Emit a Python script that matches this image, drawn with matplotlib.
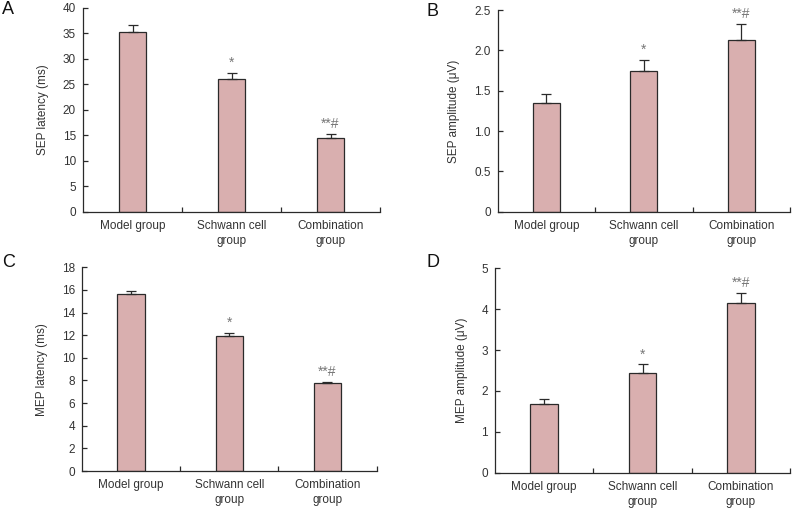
import matplotlib
matplotlib.use("Agg")
import matplotlib.pyplot as plt
from matplotlib.ticker import FuncFormatter

plt.rcParams['font.family'] = ['Liberation Sans', 'DejaVu Sans']

categories = ["Model group", "Schwann cell\ngroup", "Combination\ngroup"]

sep_latency = [35.3, 26.1, 14.5]
sep_latency_err = [1.3, 1.1, 0.7]
sep_amplitude = [1.35, 1.75, 2.13]
sep_amplitude_err = [0.11, 0.13, 0.20]
mep_latency = [15.6, 11.93, 7.77]
mep_latency_err = [0.30, 0.25, 0.12]
mep_amplitude = [1.69, 2.43, 4.16]
mep_amplitude_err = [0.12, 0.22, 0.23]
sig_labels = ["", "*", "**#"]

panels = [
    ("A", sep_latency, sep_latency_err, "SEP latency (ms)", (0, 40), [0, 5, 10, 15, 20, 25, 30, 35, 40], False,
     [0.1048, 0.5827, 0.375, 0.4016], (0.002, 0.998)),
    ("B", sep_amplitude, sep_amplitude_err, "SEP amplitude (\u03bcV)", (0, 2.5), [0, 0.5, 1.0, 1.5, 2.0, 2.5], True,
     [0.6284, 0.5833, 0.369, 0.397], (0.538, 0.994)),
    ("C", mep_latency, mep_latency_err, "MEP latency (ms)", (0, 18), [0, 2, 4, 6, 8, 10, 12, 14, 16, 18], False,
     [0.1035, 0.0728, 0.372, 0.401], (0.003, 0.5)),
    ("D", mep_amplitude, mep_amplitude_err, "MEP amplitude (\u03bcV)", (0, 5), [0, 1, 2, 3, 4, 5], False,
     [0.625, 0.0695, 0.3725, 0.4023], (0.538, 0.5)),
]

fig = plt.figure(figsize=(7.92, 5.08), dpi=100)
bar_color = "#d9afaf"
edge_color = "#2a2a2a"
text_color = "#333333"

for letter, vals, errs, ylabel, ylim, yticks, onedec, pos, lpos in panels:
    ax = fig.add_axes(pos)
    x = list(range(len(categories)))
    ax.bar(x, vals, width=0.28, color=bar_color, edgecolor=edge_color, linewidth=0.9, zorder=2)
    ax.errorbar(x, vals, yerr=[[0] * len(errs), errs], fmt="none", ecolor=edge_color,
                elinewidth=0.9, capsize=3.5, capthick=0.9, zorder=3)
    span = ylim[1] - ylim[0]
    for xi, v, e, s in zip(x, vals, errs, sig_labels):
        if s:
            ax.text(xi, v + e + span * 0.015, s, ha="center", va="bottom",
                    fontsize=10, color="#777777")
    ax.set_xlim(-0.5, 2.5)
    ax.set_ylim(*ylim)
    ax.set_yticks(yticks)
    if onedec:
        ax.yaxis.set_major_formatter(FuncFormatter(lambda v, p: "0" if v == 0 else f"{v:.1f}"))
    ax.set_xticks(x)
    ax.set_xticklabels(categories, fontsize=8.5, color=text_color, linespacing=1.3)
    ax.set_xticks([0.5, 1.5, 2.5], minor=True)
    ax.tick_params(axis="x", which="major", length=0, pad=6)
    ax.tick_params(axis="x", which="minor", direction="in", length=3.5, width=0.9, color=edge_color)
    ax.tick_params(axis="y", direction="in", length=3.5, width=0.9, color=edge_color,
                   labelsize=8.5, labelcolor=text_color, pad=5)
    ax.set_ylabel(ylabel, fontsize=8.5, color=text_color, labelpad=10)
    for sp in ["top", "right"]:
        ax.spines[sp].set_visible(False)
    for sp in ["left", "bottom"]:
        ax.spines[sp].set_linewidth(0.9)
        ax.spines[sp].set_color(edge_color)
    fig.text(lpos[0], lpos[1], letter, fontsize=13, color="#111111", ha="left", va="top")

fig.savefig("out.png", dpi=100)
